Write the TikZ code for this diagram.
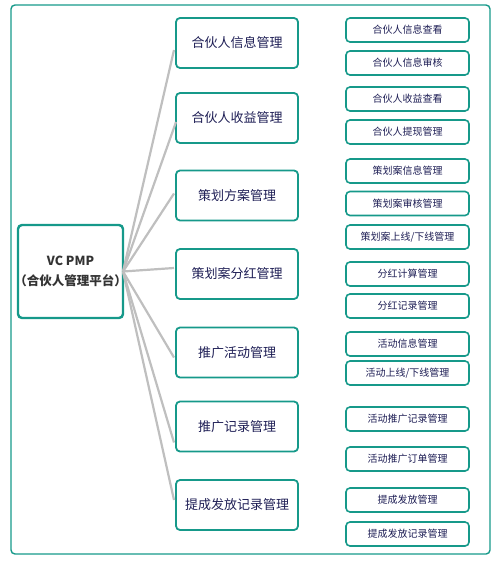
\documentclass[tikz,border=0pt]{standalone}
\usepackage{fontspec}
\setmainfont{Noto Sans CJK SC}
\definecolor{teal1}{HTML}{16998A}
\definecolor{navy}{HTML}{1E1E55}
\definecolor{link}{HTML}{BFBFBF}
\begin{document}
\begin{tikzpicture}[x=1pt,y=-1pt,
  rootbox/.style={draw=teal1,line width=2.4pt,rounded corners=4pt,minimum width=105pt,minimum height=93pt,inner sep=0pt,outer sep=0pt,text=black!80,font=\fontsize{12.5}{20}\selectfont\bfseries,align=center},
  midbox/.style={draw=teal1,line width=1.8pt,rounded corners=4pt,minimum width=122pt,minimum height=50pt,inner sep=0pt,outer sep=0pt,text=navy,font=\fontsize{13}{15}\selectfont},
  leafbox/.style={draw=teal1,line width=1.6pt,rounded corners=4pt,minimum width=123pt,minimum height=24pt,inner sep=0pt,outer sep=0pt,text=navy,font=\fontsize{10}{12}\selectfont},
  conn/.style={draw=link,line width=2.2pt}]
\useasboundingbox (0,0) rectangle (502,564);
\draw[teal1,line width=1.4pt,rounded corners=4pt] (11,5) rectangle (490,554);
\node[rootbox] (root) at (70.5,271.5) {VC PMP\\\kern-6pt（合伙人管理平台）\kern-6pt};
\node[midbox] (m1) at (237,43) {合伙人信息管理};
\node[midbox] (m2) at (237,118) {合伙人收益管理};
\node[midbox] (m3) at (237,195.5) {策划方案管理};
\node[midbox] (m4) at (237,274) {策划案分红管理};
\node[midbox] (m5) at (237,352.5) {推广活动管理};
\node[midbox] (m6) at (237,426.5) {推广记录管理};
\node[midbox] (m7) at (237,505) {提成发放记录管理};
\node[leafbox] (l1) at (407.5,30) {合伙人信息查看};
\node[leafbox] (l2) at (407.5,63) {合伙人信息审核};
\node[leafbox] (l3) at (407.5,99) {合伙人收益查看};
\node[leafbox] (l4) at (407.5,132) {合伙人提现管理};
\node[leafbox] (l5) at (407.5,171) {策划案信息管理};
\node[leafbox] (l6) at (407.5,203.5) {策划案审核管理};
\node[leafbox] (l7) at (407.5,237) {策划案上线/下线管理};
\node[leafbox] (l8) at (407.5,274) {分红计算管理};
\node[leafbox] (l9) at (407.5,306) {分红记录管理};
\node[leafbox] (l10) at (407.5,344) {活动信息管理};
\node[leafbox] (l11) at (407.5,373) {活动上线/下线管理};
\node[leafbox] (l12) at (407.5,419) {活动推广记录管理};
\node[leafbox] (l13) at (407.5,459) {活动推广订单管理};
\node[leafbox] (l14) at (407.5,500) {提成发放管理};
\node[leafbox] (l15) at (407.5,534) {提成发放记录管理};
\draw[conn] (root.east) -- ([xshift=-2pt,yshift=-7pt]m1.west);
\draw[conn] (root.east) -- ([yshift=-4pt]m2.west);
\draw[conn] (root.east) -- ([xshift=-2pt,yshift=2pt]m3.west);
\draw[conn] (root.east) -- ([xshift=-2pt,yshift=6pt]m4.west);
\draw[conn] (root.east) -- ([xshift=-2pt,yshift=-5pt]m5.west);
\draw[conn] (root.east) -- ([xshift=-2pt,yshift=-16pt]m6.west);
\draw[conn] (root.east) -- ([xshift=-2pt,yshift=5pt]m7.west);
\end{tikzpicture}
\end{document}
